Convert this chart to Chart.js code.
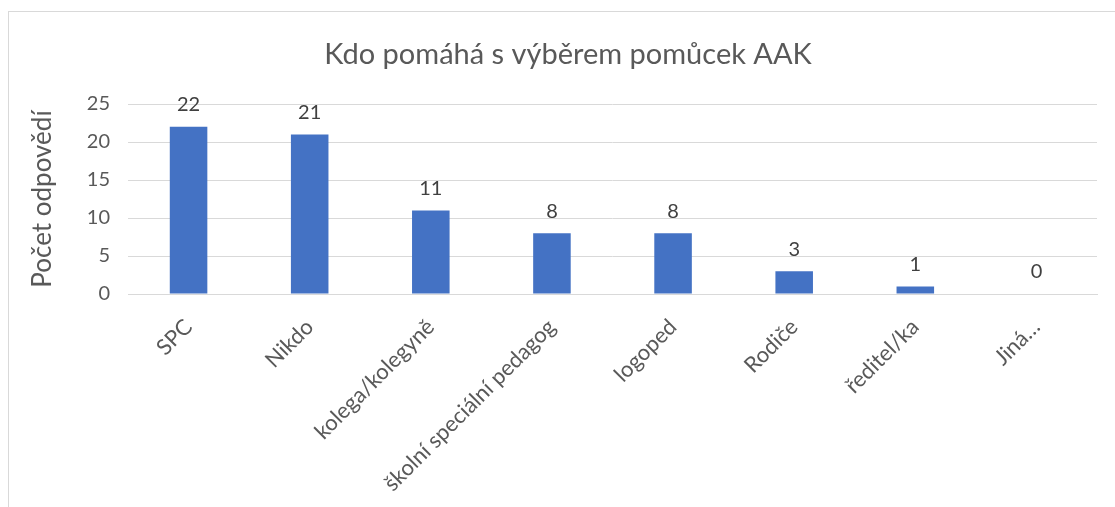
<!DOCTYPE html>
<html>
<head>
<meta charset="utf-8">
<script src="https://cdn.jsdelivr.net/npm/chart.js@4/dist/chart.umd.min.js"></script>
<style>
  html, body { margin: 0; padding: 0; background: #fff; }
  body { width: 1115px; height: 507px; position: relative; overflow: hidden; }
  #frame { position: absolute; left: 8px; top: 11px; width: 1200px; height: 600px;
           border-left: 1px solid #d9d9d9; border-top: 1px solid #d9d9d9; }
  #wrap { position: absolute; left: 0; top: 0; width: 1115px; height: 507px; }
</style>
</head>
<body>
<div id="frame"></div>
<div id="wrap"><canvas id="chart"></canvas></div>
<script>
const chartTitle = 'Kdo pomáhá s výběrem pomůcek AAK';
const categories = ['SPC', 'Nikdo', 'kolega/kolegyně', 'školní speciální pedagog', 'logoped', 'Rodiče', 'ředitel/ka', 'Jiná…'];
const answers = [22, 21, 11, 8, 8, 3, 1, 0];
const yTicks = [0, 5, 10, 15, 20, 25];

const textColor = '#595959';
const fontFamily = 'Lato, "Open Sans", sans-serif';

// title is centred over the whole chart box (which starts at the frame edge), not the canvas
const chartTitlePlugin = {
    id: 'chartTitlePlugin',
    afterDraw(chart) {
        const ctx = chart.ctx;
        ctx.save();
        ctx.font = '29px ' + fontFamily;
        ctx.fillStyle = textColor;
        ctx.textAlign = 'center';
        ctx.textBaseline = 'middle';
        ctx.fillText(chartTitle, 568, 55);
        ctx.restore();
    }
};

const valueLabels = {
    id: 'valueLabels',
    afterDatasetsDraw(chart) {
        const ctx = chart.ctx;
        const meta = chart.getDatasetMeta(0);
        ctx.save();
        ctx.font = '20px ' + fontFamily;
        ctx.fillStyle = '#404040';
        ctx.textAlign = 'center';
        ctx.textBaseline = 'middle';
        meta.data.forEach((bar, i) => {
            ctx.fillText(answers[i], bar.x, bar.y - 22);
        });
        ctx.restore();
    }
};

function createBarChart() {
    const ctx = document.getElementById('chart');
    Chart.defaults.font.family = fontFamily;
    Chart.defaults.color = textColor;
    new Chart(ctx, {
        type: 'bar',
        data: {
            labels: categories,
            datasets: [{
                label: 'Počet odpovědí',
                data: answers,
                backgroundColor: '#4472C4',
                barPercentage: 0.31,
                categoryPercentage: 1
            }]
        },
        options: {
            responsive: true,
            maintainAspectRatio: false,
            animation: false,
            layout: { padding: { top: 104, right: 18, left: 0, bottom: 0 } },
            plugins: {
                legend: { display: false },
                tooltip: { enabled: false },
                title: { display: false }
            },
            scales: {
                x: {
                    grid: { display: false, drawTicks: false },
                    border: { color: '#d9d9d9', width: 1 },
                    ticks: {
                        color: textColor,
                        font: { size: 22 },
                        minRotation: 45,
                        maxRotation: 45,
                        padding: 20,
                        autoSkip: false
                    },
                    afterFit(scale) { scale.height = 213; }
                },
                y: {
                    min: 0,
                    max: 25,
                    afterBuildTicks(scale) { scale.ticks = yTicks.map(v => ({ value: v })); },
                    grid: { color: '#d9d9d9', drawTicks: false },
                    border: { display: false },
                    ticks: { color: textColor, font: { size: 20 }, padding: 18 },
                    title: {
                        display: true,
                        text: 'Počet odpovědí',
                        color: textColor,
                        font: { size: 26, weight: 'normal' },
                        padding: { top: 27, bottom: 0 }
                    },
                    afterFit(scale) { scale.width = 128; }
                }
            }
        },
        plugins: [valueLabels, chartTitlePlugin]
    });
}

createBarChart();
</script>
</body>
</html>
